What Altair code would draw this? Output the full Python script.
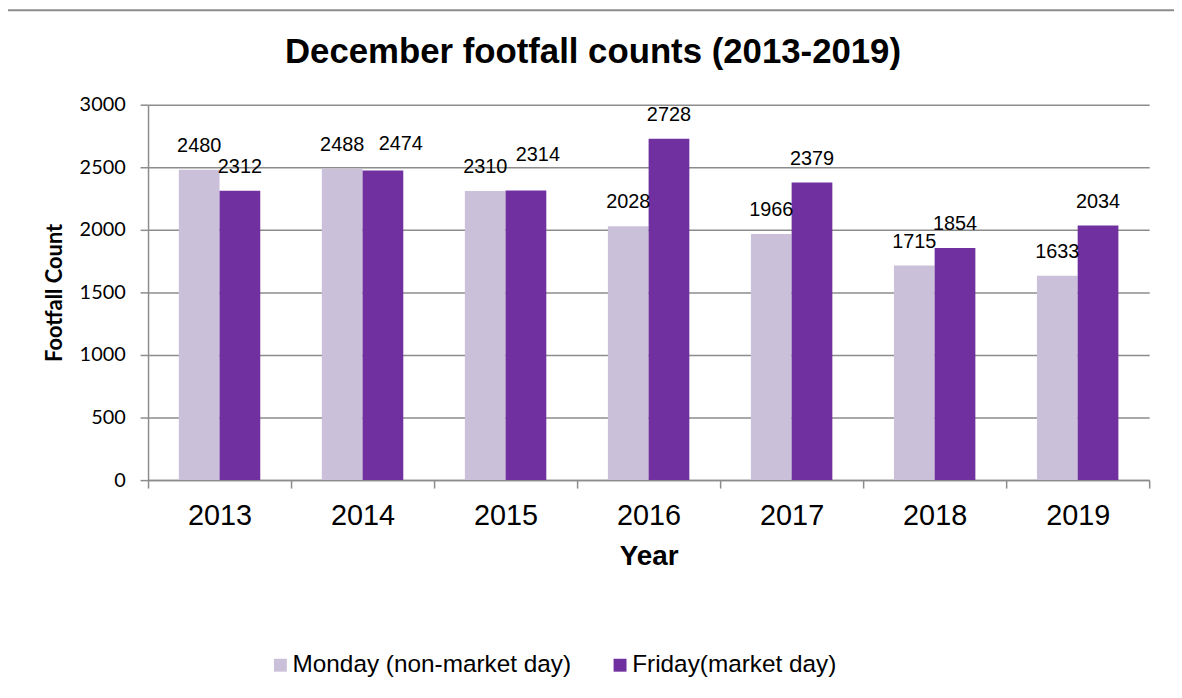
import altair as alt
import pandas as pd

years = ["2013", "2014", "2015", "2016", "2017", "2018", "2019"]
monday = [2480, 2488, 2310, 2028, 1966, 1715, 1633]
friday = [2312, 2474, 2314, 2728, 2379, 1854, 2034]
series = ["Monday (non-market day)", "Friday(market day)"]
colors = ["#CBC0DA", "#7030A0"]
title_text = ["December footfall counts (2013-2019)"]

rows = []
for i, y in enumerate(years):
    rows.append({"Year": y, "Series": series[0], "Count": monday[i], "order": 0})
    rows.append({"Year": y, "Series": series[1], "Count": friday[i], "order": 1})
df = pd.DataFrame(rows)
title_df = pd.DataFrame({"t": title_text})

FONT = "Liberation Sans"
FONT_Y = "Lato"

x_enc = alt.X("Year:N", sort=years,
              scale=alt.Scale(paddingInner=0, paddingOuter=0),
              axis=alt.Axis(title="Year", labelAngle=0, labelFontSize=29, labelPadding=37,
                            labelBaseline="alphabetic",
                            titleFontSize=28, titleFontWeight="bold", titlePadding=12,
                            tickBand="extent", tickSize=8, grid=False))
y_enc = alt.Y("Count:Q", scale=alt.Scale(domain=[0, 3000]),
              axis=alt.Axis(title="Footfall Count", values=[0, 500, 1000, 1500, 2000, 2500, 3000],
                            format="d", labelFont=FONT_Y, titleFont=FONT_Y,
                            labelFontSize=20, labelPadding=15, tickSize=8,
                            titleFontSize=22, titleFontWeight="bold", titlePadding=13))
xoff = alt.XOffset("Series:N", sort=series,
                   scale=alt.Scale(paddingInner=0, paddingOuter=0.756))

bars = alt.Chart(df).mark_bar().encode(
    x=x_enc, y=y_enc, xOffset=xoff,
    color=alt.Color("Series:N", sort=series,
                    scale=alt.Scale(domain=series, range=colors),
                    legend=alt.Legend(title=None, orient="none", direction="horizontal",
                                      legendX=121, legendY=552, padding=0,
                                      symbolType="square",
                                      symbolSize=169, symbolStrokeWidth=0,
                                      labelFontSize=24.5, labelLimit=0,
                                      columnPadding=36, labelOffset=0)),
)

base_labels = alt.Chart(df).encode(
    x=alt.X("Year:N", sort=years), y=alt.Y("Count:Q"), xOffset=xoff,
    text=alt.Text("Count:Q"))

sel_2474 = "datum.Year == '2014' && datum.order == 1"
sel_2314 = "datum.Year == '2015' && datum.order == 1"

labels = base_labels.transform_filter(
    f"!({sel_2474}) && !({sel_2314})"
).mark_text(dy=-24, fontSize=20, font=FONT, color="black")

labels_a = base_labels.transform_filter(sel_2474).mark_text(
    dy=-27, dx=18, fontSize=20, font=FONT, color="black")
labels_b = base_labels.transform_filter(sel_2314).mark_text(
    dy=-36, dx=12, fontSize=20, font=FONT, color="black")

frame = alt.Chart(title_df).mark_rect(fill=None, stroke="#8C8C8C", strokeWidth=2).encode(
    x=alt.value(-142), x2=alt.value(1100), y=alt.value(-95), y2=alt.value(640))

title = alt.Chart(title_df).mark_text(fontSize=35, fontWeight="bold",
                                      font=FONT, color="black", baseline="alphabetic",
                                      align="center").encode(
    text="t:N", x=alt.value(448), y=alt.value(-42))

chart = alt.layer(frame, title, bars, labels, labels_a, labels_b).properties(
    width=1008, height=378,
    autosize=alt.AutoSizeParams(type="none"),
    padding={"left": 141, "top": 95, "right": 25, "bottom": 212},
).configure_view(stroke=None).configure_axis(
    labelFont=FONT, titleFont=FONT, labelColor="black", titleColor="black",
    domainColor="#8C8C8C", tickColor="#8C8C8C", gridColor="#8C8C8C",
    domainWidth=1.5, tickWidth=1.5, gridWidth=1.5,
).configure_axisX(grid=False).configure_legend(labelFont=FONT, labelColor="black")

chart.save("out.html", embed_options={"renderer": "svg", "actions": False})
